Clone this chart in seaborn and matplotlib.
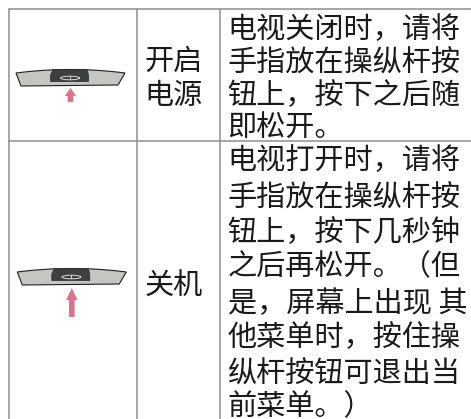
import matplotlib
matplotlib.use('Agg')
import matplotlib.pyplot as plt
import numpy as np
import pandas as pd
import seaborn as sns

# table contents
action_labels = [['开启', '电源'], ['关机']]
row_one_lines = ['电视关闭时，请将', '手指放在操纵杆按', '钮上，按下之后随', '即松开。']
row_two_lines = ['电视打开时，请将', '手指放在操纵杆按', '钮上，按下几秒钟', '之后再松开。（但',
                 '是，屏幕上出现 其', '他菜单时，按住操', '纵杆按钮可退出当', '前菜单。）']

sns.set_theme(style='white')
plt.rcParams['font.family'] = ['Noto Sans CJK SC', 'DejaVu Sans']

fig = plt.figure(figsize=(4.71, 4.19), dpi=100)
ax = fig.add_axes([0, 0, 1, 1])

# rules of the table, in picture pixels
rules = pd.DataFrame({
    'x': [8.5, 8.5, 137, 137, 220, 220, 8.5, 471, 8.5, 471],
    'y': [9, 419, 9, 419, 9, 419, 9, 9, 141, 141],
    'rule': [0, 0, 1, 1, 2, 2, 3, 3, 4, 4],
})
sns.lineplot(data=rules, x='x', y='y', units='rule', estimator=None, sort=False,
             color='#8e8e8e', lw=1.1, ax=ax)


def draw_remote(dx, dy, tip, head, tail):
    t = np.linspace(-1, 1, 30)
    arc_x = 70.5 + dx + t * 54.5
    arc_y = 69.5 + dy + 3.5 * t ** 2
    xs = np.r_[arc_x, 118 + dx, 21 + dx]
    ys = np.r_[arc_y, 85 + dy, 86 + dy]
    ax.fill(xs, ys, fc='#c4c6c2', ec='#1e1e1e', lw=0.8)
    ax.fill(np.array([53, 87, 88.5, 88.5, 50.5, 50.5]) + dx,
            np.array([69.5, 69.5, 75, 81.5, 81.5, 75]) + dy,
            fc='#3d4040', ec='#2a2a2a', lw=0.5)
    # power symbol on the button
    a = np.linspace(0, 2 * np.pi, 40)
    ax.plot(70 + dx + 9.5 * np.cos(a), 78 + dy + 1.8 * np.sin(a), color='#d8dad6', lw=0.7)
    ax.plot(np.array([70, 70]) + dx, np.array([75.8, 78.5]) + dy, color='#d8dad6', lw=0.7)
    cx = 70.5 + dx
    ax.fill([cx, cx + 5.7, cx + 2.8, cx + 2.8, cx - 2.8, cx - 2.8, cx - 5.7],
            [tip, head, head, tail, tail, head, head], fc='#dc728b', ec='none')


draw_remote(0, 0, 88, 96, 102)
draw_remote(1.3, 199, 288, 300, 317)

text_kw = dict(fontsize=21, color='#1a1a1a', va='baseline', ha='left')
drop = 11.5
for label, y in zip(action_labels[0], [58, 92.5]):
    ax.text(144.5, y + drop, label, **text_kw)
ax.text(144.5, 283 + drop, action_labels[1][0], **text_kw)
for line, y in zip(row_one_lines, [27, 60, 93, 124]):
    ax.text(227.5, y + drop, line, **text_kw)
for line, y in zip(row_two_lines, [158, 195, 230, 264, 301, 335, 371, 404]):
    ax.text(227.5, y + drop, line, **text_kw)

ax.set_xlim(0, 471)
ax.set_ylim(419, 0)
ax.axis('off')
fig.savefig('out.png', dpi=100, facecolor='white')
